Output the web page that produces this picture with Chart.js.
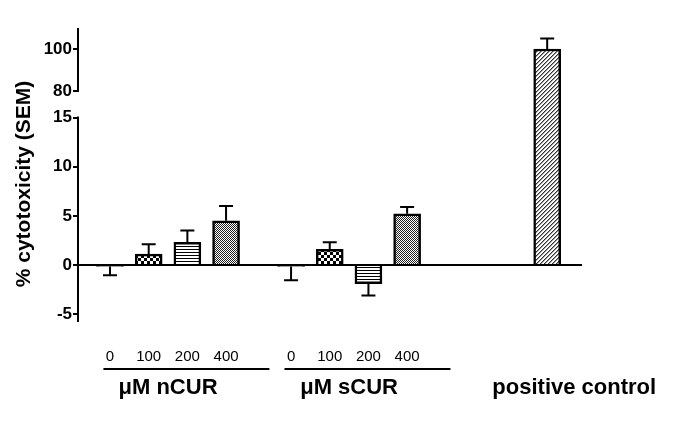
<!DOCTYPE html>
<html>
<head>
<meta charset="utf-8">
<script src="https://cdn.jsdelivr.net/npm/chart.js@4/dist/chart.umd.min.js"></script>
<style>
  html, body { margin: 0; padding: 0; background: #fff; }
  #wrap { width: 685px; height: 441px; position: relative; }
</style>
</head>
<body>
<div id="wrap"><canvas id="c"></canvas></div>
<script>
// ---------------- data ----------------
const groupLabels = ['μM nCUR', 'μM sCUR', 'positive control'];
const doseLabels = ['0', '100', '200', '400'];
const nCUR = [-0.15, 1.1, 2.3, 4.5];
const nCURErr = [0.9, 1.0, 1.2, 1.5];
const sCUR = [-0.15, 1.6, -1.9, 5.2];
const sCURErr = [1.4, 0.7, 1.2, 0.7];
const positiveControl = [100];
const positiveControlErr = [5];
const yTicks = [-5, 0, 5, 10, 15, 80, 100];
const axisTitle = '% cytotoxicity (SEM)';

// ---------------- layout constants ----------------
const LOWER = [-5.8, 15];      // lower axis segment range
const UPPER = [80, 110];       // upper axis segment range
const SEG = { lower: 204.5, gap: 26.5, upper: 63 }; // relative heights
const GROUP_START = [0, 4.68, 11.3]; // slot offsets of groups on x
const X_MIN = -0.827, X_MAX = 12.2;
const FONT = 'Liberation Sans, Arial, Helvetica, sans-serif';

// ---------------- broken-axis scale ----------------
class BrokenLinearScale extends Chart.LinearScale {
  buildTicks() { return yTicks.map(v => ({ value: v })); }
  _segs() {
    const total = SEG.lower + SEG.gap + SEG.upper;
    const k = (this.bottom - this.top) / total;
    const lowerTop = this.bottom - SEG.lower * k;
    const upperBottom = lowerTop - SEG.gap * k;
    return { k, lowerTop, upperBottom };
  }
  getPixelForValue(value) {
    const { k, lowerTop, upperBottom } = this._segs();
    if (value <= LOWER[1]) return this.bottom - (value - LOWER[0]) / (LOWER[1] - LOWER[0]) * SEG.lower * k;
    if (value >= UPPER[0]) return upperBottom - (value - UPPER[0]) / (UPPER[1] - UPPER[0]) * SEG.upper * k;
    return lowerTop - (value - LOWER[1]) / (UPPER[0] - LOWER[1]) * SEG.gap * k;
  }
  getValueForPixel(pixel) {
    const { k, lowerTop, upperBottom } = this._segs();
    if (pixel >= lowerTop) return LOWER[0] + (this.bottom - pixel) / (SEG.lower * k) * (LOWER[1] - LOWER[0]);
    if (pixel <= upperBottom) return UPPER[0] + (upperBottom - pixel) / (SEG.upper * k) * (UPPER[1] - UPPER[0]);
    return LOWER[1] + (lowerTop - pixel) / (SEG.gap * k) * (UPPER[0] - LOWER[1]);
  }
}
BrokenLinearScale.id = 'brokenLinear';
BrokenLinearScale.defaults = Chart.LinearScale.defaults;
Chart.register(BrokenLinearScale);

// ---------------- fill patterns ----------------
function makePattern(w, h, draw) {
  const c = document.createElement('canvas');
  c.width = w; c.height = h;
  const g = c.getContext('2d');
  g.fillStyle = '#fff'; g.fillRect(0, 0, w, h);
  g.fillStyle = '#000';
  draw(g);
  return document.getElementById('c').getContext('2d').createPattern(c, 'repeat');
}
const patNone = '#ffffff';
const patChecker = makePattern(6, 6, g => { g.fillRect(0, 0, 3, 3); g.fillRect(3, 3, 3, 3); });
const patHLines = makePattern(3, 3, g => { g.fillRect(0, 0, 3, 1); });
const patStipple = makePattern(4, 4, g => {
  g.fillStyle = '#222';
  g.fillRect(0, 0, 1, 1); g.fillRect(2, 0, 1, 1); g.fillRect(1, 1, 1, 1); g.fillRect(3, 1, 1, 1);
  g.fillRect(0, 2, 1, 1); g.fillRect(2, 2, 1, 1); g.fillRect(1, 3, 1, 1); g.fillRect(3, 3, 1, 1);
});
const patHatch = makePattern(4, 4, g => {
  g.fillStyle = '#333';
  for (let i = 0; i < 4; i++) g.fillRect(i, 3 - i, 1, 1);
  g.fillStyle = '#999';
  for (let i = 0; i < 4; i++) g.fillRect(i, (4 - i) % 4, 1, 1);
});
const dosePatterns = [patNone, patChecker, patHLines, patStipple];

// ---------------- build dataset ----------------
const seriesVals = [nCUR, sCUR, positiveControl];
const seriesErrs = [nCURErr, sCURErr, positiveControlErr];
const points = [], fills = [], errs = [];
seriesVals.forEach((vals, gi) => {
  vals.forEach((v, i) => {
    points.push({ x: GROUP_START[gi] + i, y: v });
    fills.push(gi < 2 ? dosePatterns[i] : patHatch);
    errs.push(seriesErrs[gi][i]);
  });
});
const doseTickPositions = [];
[0, 1].forEach(gi => doseLabels.forEach((d, i) => doseTickPositions.push(GROUP_START[gi] + i)));

// ---------------- plugins ----------------
const decorPlugin = {
  id: 'decor',
  beforeDatasetsDraw(chart) {
    const { ctx, chartArea, scales: { y } } = chart;
    ctx.save();
    ctx.strokeStyle = '#000';
    ctx.lineWidth = 2;
    // zero baseline
    const y0 = Math.round(y.getPixelForValue(0));
    ctx.beginPath();
    ctx.moveTo(chartArea.left, y0);
    ctx.lineTo(chartArea.right, y0);
    ctx.stroke();
    // broken y axis
    const xA = chartArea.left;
    ctx.beginPath();
    ctx.moveTo(xA, y.getPixelForValue(UPPER[1]));
    ctx.lineTo(xA, y.getPixelForValue(UPPER[0]) + 1);
    ctx.moveTo(xA, y.getPixelForValue(LOWER[1]) - 1);
    ctx.lineTo(xA, y.getPixelForValue(LOWER[0]));
    ctx.stroke();
    ctx.restore();
  },
  afterDatasetsDraw(chart) {
    const { ctx, scales: { y } } = chart;
    const meta = chart.getDatasetMeta(0);
    ctx.save();
    ctx.strokeStyle = '#000';
    ctx.lineWidth = 2;
    meta.data.forEach((el, i) => {
      const v = points[i].y, e = errs[i];
      const dir = v < 0 ? -1 : 1;
      const end = y.getPixelForValue(v + dir * e);
      ctx.beginPath();
      ctx.moveTo(el.x, el.y);
      ctx.lineTo(el.x, end);
      ctx.moveTo(el.x - 7, end);
      ctx.lineTo(el.x + 7, end);
      ctx.stroke();
    });
    ctx.restore();
  },
  afterDraw(chart) {
    const { ctx, scales: { x } } = chart;
    ctx.save();
    ctx.fillStyle = '#000';
    ctx.strokeStyle = '#000';
    ctx.lineWidth = 2;
    // axis title
    ctx.save();
    ctx.translate(24, 184);
    ctx.rotate(-Math.PI / 2);
    ctx.font = 'bold 21px ' + FONT;
    ctx.textAlign = 'center';
    ctx.textBaseline = 'middle';
    ctx.fillText(axisTitle, 0, 0);
    ctx.restore();
    // group lines and labels
    ctx.font = 'bold 22px ' + FONT;
    ctx.textAlign = 'center';
    ctx.textBaseline = 'middle';
    groupLabels.forEach((lab, gi) => {
      const n = seriesVals[gi].length;
      const first = GROUP_START[gi], last = GROUP_START[gi] + n - 1;
      if (gi < 2) {
        ctx.beginPath();
        ctx.moveTo(x.getPixelForValue(first - 0.17), 369);
        ctx.lineTo(x.getPixelForValue(last + 1.12), 369);
        ctx.stroke();
        ctx.fillText(lab, x.getPixelForValue((first + last) / 2), 388);
      } else {
        ctx.fillText(lab, x.getPixelForValue(first + 0.7), 388);
      }
    });
    ctx.restore();
  }
};

// ---------------- chart ----------------
new Chart(document.getElementById('c'), {
  type: 'bar',
  data: {
    datasets: [{
      data: points,
      backgroundColor: fills,
      borderColor: '#000',
      borderWidth: 2.5,
      barThickness: 27
    }]
  },
  options: {
    responsive: true,
    maintainAspectRatio: false,
    animation: false,
    events: [],
    layout: { padding: { left: 0, right: 103, top: 28, bottom: 0 } },
    plugins: { legend: { display: false }, tooltip: { enabled: false } },
    scales: {
      x: {
        type: 'linear',
        min: X_MIN, max: X_MAX,
        offset: false,
        grid: { display: false, offset: false },
        border: { display: false },
        afterBuildTicks: s => { s.ticks = doseTickPositions.map(v => ({ value: v })); },
        afterFit: s => { s.height = 119; },
        ticks: {
          autoSkip: false, maxRotation: 0, padding: 18,
          color: '#000',
          font: { family: FONT, size: 15 },
          callback: (v, i) => doseLabels[i % doseLabels.length]
        }
      },
      y: {
        type: 'brokenLinear',
        min: LOWER[0], max: UPPER[1],
        border: { display: false },
        grid: { display: true, drawOnChartArea: false, drawTicks: true, tickLength: 5, color: '#000', lineWidth: 2 },
        afterFit: s => { s.width = 78; },
        ticks: {
          autoSkip: false, padding: 1, color: '#000',
          font: { family: FONT, size: 17, weight: 'bold' },
          callback: v => String(v)
        }
      }
    }
  },
  plugins: [decorPlugin]
});
</script>
</body>
</html>
